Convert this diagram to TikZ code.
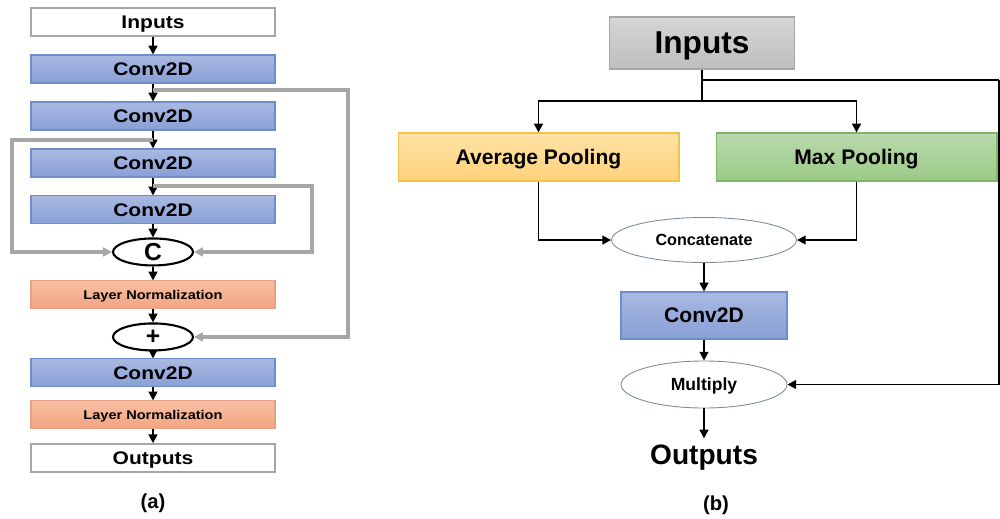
\documentclass[tikz,border=0pt]{standalone}
\usepackage{fontspec}
\setmainfont{Liberation Sans}
\newfontfamily\widesans{Liberation Sans}[FakeStretch=1.15]
\usepackage{tikz}
\usetikzlibrary{positioning,shapes.geometric,arrows.meta}

\definecolor{convtop}{HTML}{A9B9E2}
\definecolor{convbot}{HTML}{889FD6}
\definecolor{convline}{HTML}{6F8CCB}
\definecolor{normtop}{HTML}{F8BFA3}
\definecolor{normbot}{HTML}{F3A37F}
\definecolor{normline}{HTML}{E6A083}
\definecolor{avgtop}{HTML}{FEE3A6}
\definecolor{avgbot}{HTML}{FDD27B}
\definecolor{avgline}{HTML}{F2C04C}
\definecolor{maxtop}{HTML}{B9DAAC}
\definecolor{maxbot}{HTML}{9BCA86}
\definecolor{maxline}{HTML}{82B56C}
\definecolor{intop}{HTML}{D6D6D6}
\definecolor{inbot}{HTML}{BEBEBE}
\definecolor{bygray}{HTML}{A6A6A6}
\definecolor{ovalline}{HTML}{7F8A9C}

\newcommand{\boldsz}[1]{\fontsize{#1}{#1}\selectfont\bfseries}
\newcommand{\wideboldsz}[1]{\widesans\fontsize{#1}{#1}\selectfont\bfseries}

\begin{document}
\begin{tikzpicture}[
x=0.02cm, y=-0.02cm, line width=1.1pt, >={Triangle[length=5pt,width=5pt]},
node distance=0.94cm,
colbox/.style={rectangle, minimum width=4.88cm, minimum height=0.56cm, inner sep=0pt, text depth=0pt, font=\wideboldsz{10.4}},
whitebox/.style={colbox, draw=bygray, fill=white, line width=0.8pt},
convbox/.style={colbox, draw=convline, top color=convtop, bottom color=convbot, line width=0.6pt},
normbox/.style={colbox, draw=normline, top color=normtop, bottom color=normbot, line width=0.6pt, font=\wideboldsz{7.2}},
opnode/.style={ellipse, draw, fill=white, line width=1.2pt, minimum width=1.6cm, minimum height=0.54cm, inner sep=0pt, font=\boldsz{14}},
bypass/.style={draw=bygray, line width=2pt, ->},
widebox/.style={rectangle, minimum width=5.62cm, minimum height=0.96cm, inner sep=0pt, text depth=0pt, line width=0.6pt, font=\boldsz{12}},
ovalnode/.style={ellipse, draw=ovalline, fill=white, line width=0.5pt, inner sep=0pt, text depth=0pt, font=\boldsz{9.2}}]
\useasboundingbox (0,0) rectangle (1000,518);

% (a) block with stacked convolutions
\node[whitebox] (in) at (153,22) {Inputs};
\node[convbox] (c1) [below of=in] {Conv2D};
\node[convbox] (c2) [below of=c1] {Conv2D};
\node[convbox] (c3) [below of=c2] {Conv2D};
\node[convbox] (c4) [below of=c3] {Conv2D};
\node[opnode] (cat) [below of=c4, node distance=0.84cm] {C};
\node[normbox] (ln1) [below of=cat, node distance=0.86cm] {Layer Normalization};
\node[opnode] (add) [below of=ln1, node distance=0.84cm] {+};
\node[convbox] (c5) [below of=add, node distance=0.72cm] {Conv2D};
\node[normbox] (ln2) [below of=c5, node distance=0.84cm] {Layer Normalization};
\node[whitebox] (out) [below of=ln2, node distance=0.86cm] {Outputs};
\node[font=\boldsz{11.5}] (capa) at (153,503) {(a)};

\draw[->] (in) -- (c1);
\draw[->] (c1) -- (c2);
\draw[->] (c2) -- (c3);
\draw[->] (c3) -- (c4);
\draw[->] (c4) -- (cat);
\draw[->] (cat) -- (ln1);
\draw[->] (ln1) -- (add);
\draw[->] (add) -- (c5);
\draw[->] (c5) -- (ln2);
\draw[->] (ln2) -- (out);

% skip paths
\coordinate (s1) at (153,90);
\coordinate (s2) at (153,140);
\coordinate (s3) at (153,186);
\draw[bypass] (s1) -- ++(195,0) |- (add.east);
\draw[bypass] (s2) -- ++(-141,0) |- (cat.west);
\draw[bypass] (s3) -- ++(159,0) |- (cat.east);

% (b) pooling attention
\node[widebox, draw=bygray, top color=intop, bottom color=inbot, minimum width=3.7cm, minimum height=1.04cm, font=\boldsz{18}] (rin) at (702,43) {Inputs};
\node[widebox, draw=avgline, top color=avgtop, bottom color=avgbot] (avg) at (538.5,157) {Average Pooling};
\node[widebox, draw=maxline, top color=maxtop, bottom color=maxbot] (max) at (856.5,157) {Max Pooling};
\node[ovalnode, minimum width=3.7cm, minimum height=0.9cm] (cc) at (704,240) {Concatenate};
\node[widebox, draw=convline, top color=convtop, bottom color=convbot, minimum width=3.32cm, minimum height=0.94cm] (rc) at (704,315.5) {Conv2D};
\node[ovalnode, minimum width=3.32cm, minimum height=0.94cm, font=\boldsz{10}] (mul) at (704,384.5) {Multiply};
\node[font=\boldsz{16}, text depth=0pt] (rout) at (704,455) {Outputs};
\node[font=\boldsz{11.5}] (capb) at (716,505) {(b)};

\coordinate (tap) at (702,80);
\coordinate (split) at (702,101);
\coordinate (edge) at (999,80);
\draw (rin) -- (split);
\draw[->] (split) -| (avg);
\draw[->] (split) -| (max);
\draw (tap) -- (edge);
\draw[->] (avg) |- (cc);
\draw[->] (max) |- (cc);
\draw[->] (cc) -- (rc);
\draw[->] (rc) -- (mul);
\draw[->] (edge) |- (mul);
\draw[->] (mul) -- (rout);
\end{tikzpicture}
\end{document}
